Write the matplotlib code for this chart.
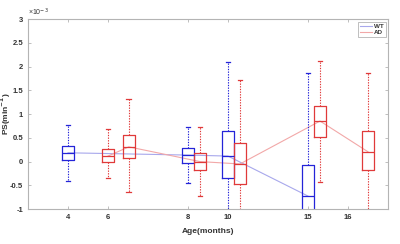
import matplotlib
matplotlib.use("Agg")
import matplotlib.pyplot as plt

plt.rcParams['font.family'] = ['Liberation Sans', 'DejaVu Sans']
plt.rcParams['axes.unicode_minus'] = False

# values in units of 1e-3 min^-1
wt_pos = [1, 4, 5, 7]
wt_med = [0.185, 0.137, 0.116, -0.726]
wt_q1 = [0.025, -0.02, -0.355, -1.3]
wt_q3 = [0.326, 0.284, 0.64, -0.08]
wt_lo = [-0.40, -0.445, -1.5, -1.6]
wt_hi = [0.775, 0.72, 2.10, 1.856]

ad_pos = [2, 2.52, 4.3, 5.3, 7.3, 8.5]
ad_med = [0.116, 0.31, 0.0, -0.05, 0.853, 0.206]
ad_q1 = [-0.01, 0.07, -0.185, -0.48, 0.52, -0.18]
ad_q3 = [0.27, 0.57, 0.18, 0.40, 1.16, 0.64]
ad_lo = [-0.355, -0.64, -0.726, -1.5, -0.43, -1.5]
ad_hi = [0.68, 1.31, 0.72, 1.716, 2.11, 1.87]

tick_pos = [1, 2, 4, 5, 7, 8]
tick_labels = ['4', '6', '8', '10', '15', '16']
y_ticks = [-1, -0.5, 0, 0.5, 1, 1.5, 2, 2.5, 3]

blue = '#2424d8'
red = '#e03a3a'
gray = '#b4b4b4'


def stats(med, q1, q3, lo, hi):
    return [dict(med=m, q1=a, q3=b, whislo=l, whishi=h, fliers=[])
            for m, a, b, l, h in zip(med, q1, q3, lo, hi)]


fig = plt.figure(figsize=(4, 2.44), dpi=100)
ax = fig.add_axes([0.07, 0.143, 0.90, 0.779])

for st, pos, col in [(stats(wt_med, wt_q1, wt_q3, wt_lo, wt_hi), wt_pos, blue),
                     (stats(ad_med, ad_q1, ad_q3, ad_lo, ad_hi), ad_pos, red)]:
    ax.bxp(st, positions=pos, widths=0.3, capwidths=0.12, manage_ticks=False,
           boxprops=dict(color=col, lw=0.9),
           medianprops=dict(color=col, lw=0.9),
           whiskerprops=dict(color=col, lw=0.8, linestyle=(0, (1.2, 1.2))),
           capprops=dict(color=col, lw=0.9))

ax.plot(wt_pos, wt_med, color='#a8a8ec', lw=0.8, label='WT', zorder=1)
ax.plot(ad_pos, ad_med, color='#f2a8a8', lw=0.8, label='AD', zorder=1)

ax.set_xlim(0, 9)
ax.set_ylim(-1, 3)
ax.set_xticks(tick_pos)
ax.set_xticklabels(tick_labels)
ax.set_yticks(y_ticks)
ax.set_yticklabels(['%g' % v for v in y_ticks])
for s in ax.spines.values():
    s.set_color(gray)
    s.set_linewidth(0.8)
ax.tick_params(direction='in', length=2.5, width=0.6, color=gray,
               top=True, right=True, labelsize=5.5, pad=3.5, labelcolor='#333333')
for lab in ax.get_xticklabels() + ax.get_yticklabels():
    lab.set_fontweight('bold')

ax.set_xlabel('Age(months)', fontsize=6, fontweight='bold', color='#333333')
ax.set_ylabel('PS(min$^{\\mathbf{-1}}$)', fontsize=6, fontweight='bold', color='#333333')
ax.xaxis.set_label_coords(0.5, -0.1)
ax.yaxis.set_label_coords(-0.042, 0.5)
ax.text(0.0, 1.005, '×10$^{-3}$', transform=ax.transAxes, fontsize=5,
        color='#333333', ha='left', va='bottom')

leg = ax.legend(loc='upper right', fontsize=4.5, handlelength=2.0, handletextpad=0.3,
                borderpad=0.3, labelspacing=0.2, fancybox=False, framealpha=1,
                borderaxespad=0.4)
leg.get_frame().set_edgecolor(gray)
leg.get_frame().set_linewidth(0.6)
for t in leg.get_texts():
    t.set_fontweight('bold')
    t.set_color('#333333')

fig.savefig('out.png', dpi=100)
